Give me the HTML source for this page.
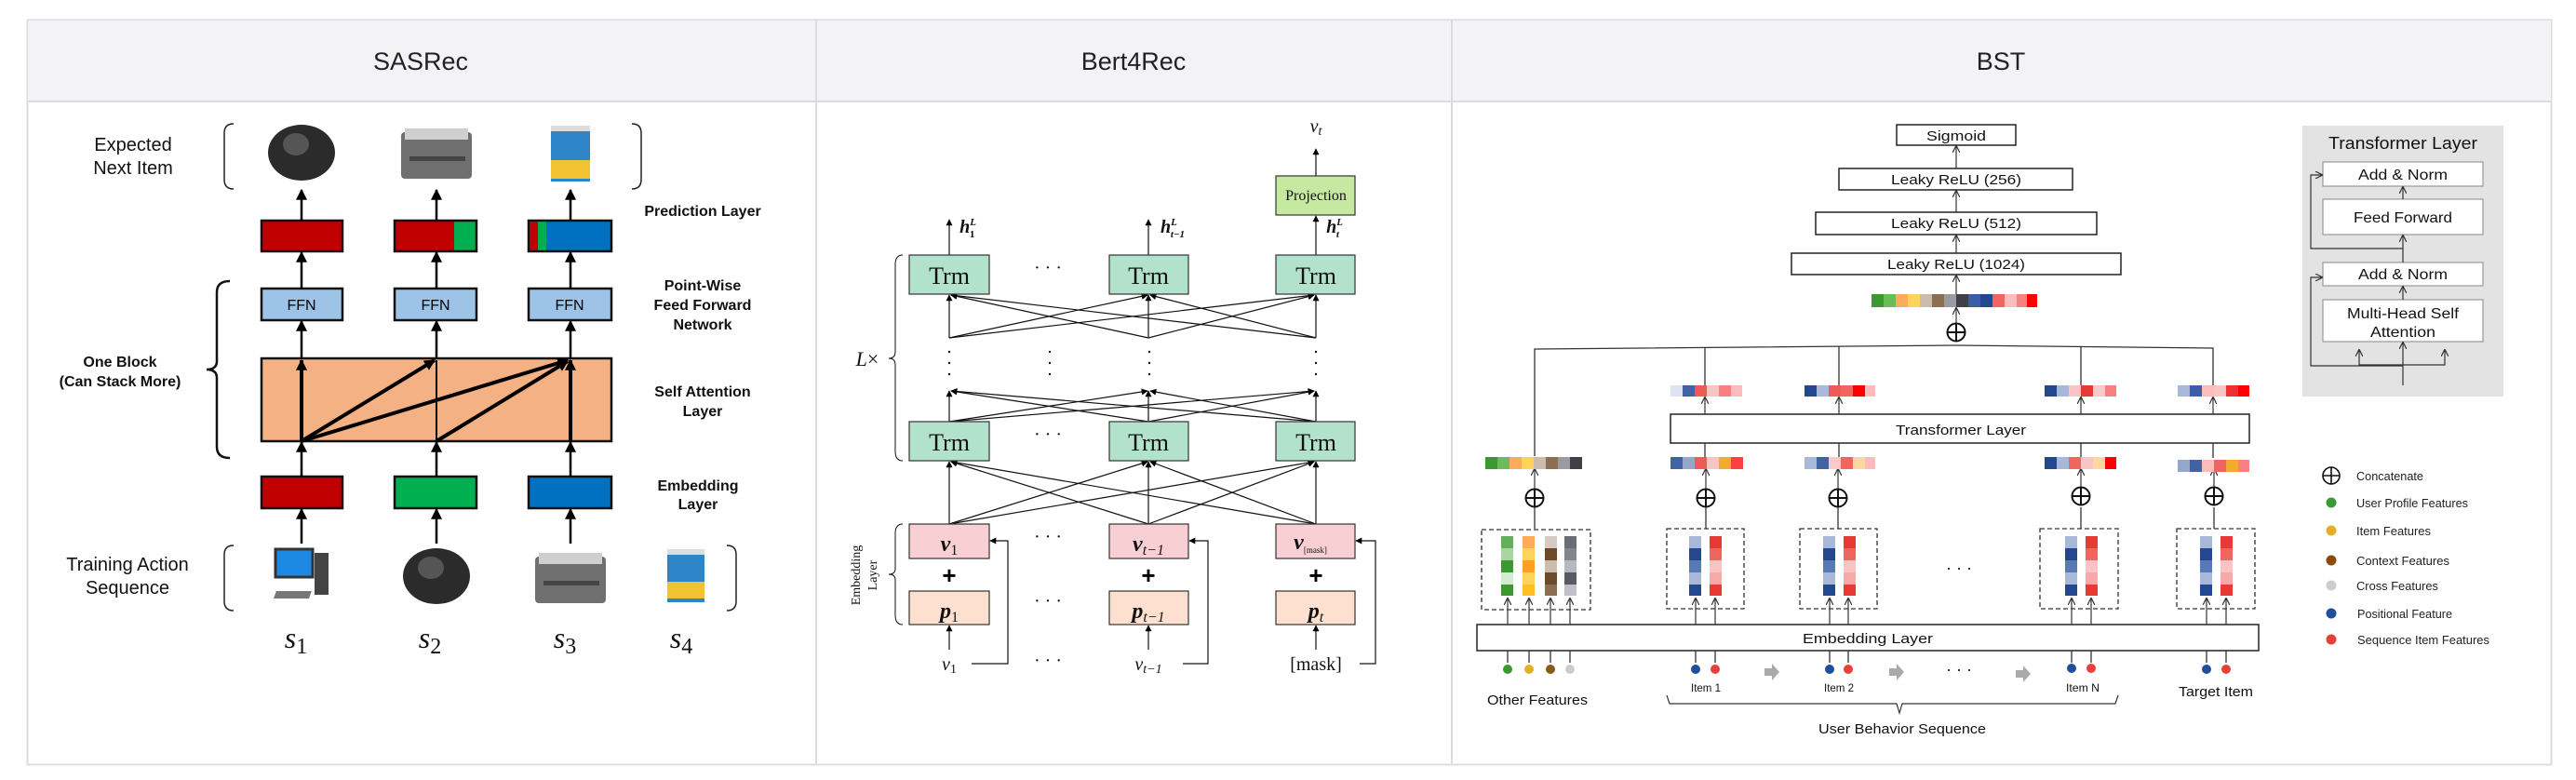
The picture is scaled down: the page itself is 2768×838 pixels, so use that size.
<!DOCTYPE html>
<html><head><meta charset="utf-8"><style>
html,body{margin:0;padding:0;background:#fff;}
svg{display:block;}
.hd{font-family:"Liberation Sans",sans-serif;font-size:27px;fill:#222;text-anchor:middle;}
.sa{font-family:"Liberation Sans",sans-serif;fill:#111;text-anchor:middle;}
.b{font-weight:bold;font-size:16px;}
.n{font-size:20px;}
.ser{font-family:"Liberation Serif",serif;fill:#111;text-anchor:middle;}
.bs{font-family:"Liberation Sans",sans-serif;fill:#111;text-anchor:middle;}
</style></head><body>
<svg width="2768" height="838" viewBox="0 0 2768 838" xmlns="http://www.w3.org/2000/svg">
<defs>
<marker id="A" viewBox="0 0 10 10" refX="9" refY="5" markerWidth="12" markerHeight="14" markerUnits="userSpaceOnUse" orient="auto"><path d="M0,0L10,5L0,10z" fill="#000"/></marker>
<marker id="T" viewBox="0 0 10 10" refX="9" refY="5" markerWidth="8" markerHeight="7" markerUnits="userSpaceOnUse" orient="auto"><path d="M0,0L10,5L0,10z" fill="#000"/></marker>
<marker id="O" viewBox="0 0 10 10" refX="9" refY="5" markerWidth="8" markerHeight="8" markerUnits="userSpaceOnUse" orient="auto"><path d="M0,0L10,5L0,10" fill="none" stroke="#333" stroke-width="1.5"/></marker>
</defs>
<rect x="29.5" y="21.5" width="2712" height="800" fill="#fff" stroke="#dcdce0" stroke-width="2"/>
<rect x="30" y="22" width="2711" height="87" fill="#f3f3f5"/>
<line x1="30" y1="109" x2="2741" y2="109" stroke="#dcdce0" stroke-width="2"/>
<line x1="877" y1="21" x2="877" y2="821" stroke="#dcdce0" stroke-width="2"/>
<line x1="1560" y1="21" x2="1560" y2="821" stroke="#dcdce0" stroke-width="2"/>
<text class="hd" x="452" y="75">SASRec</text>
<text class="hd" x="1218" y="75">Bert4Rec</text>
<text class="hd" x="2150" y="75">BST</text>

<g>
<text class="sa n" x="143" y="162">Expected</text>
<text class="sa n" x="143" y="187">Next Item</text>
<path d="M251,133 Q241,133 241,143 L241,193 Q241,203 251,203" fill="none" stroke="#222" stroke-width="1.5"/>
<path d="M679,133 Q689,133 689,143 L689,193 Q689,203 679,203" fill="none" stroke="#222" stroke-width="1.5"/>
<ellipse cx="324" cy="164" rx="36" ry="30" fill="#2b2b2b"/><ellipse cx="318" cy="155" rx="14" ry="12" fill="#555"/>
<rect x="431" y="142" width="76" height="50" rx="4" fill="#6f6f6f"/><rect x="435" y="138" width="68" height="12" fill="#cfcfcf"/><rect x="440" y="168" width="60" height="5" fill="#444"/>
<rect x="592" y="137" width="42" height="58" fill="#2e86c8"/><rect x="592" y="172" width="42" height="20" fill="#f1c232"/><rect x="592" y="135" width="42" height="6" fill="#ddd"/>
<text class="sa b" x="755" y="232">Prediction Layer</text>
<text class="sa b" x="755" y="312">Point-Wise</text>
<text class="sa b" x="755" y="333">Feed Forward</text>
<text class="sa b" x="755" y="354">Network</text>
<text class="sa b" x="755" y="426">Self Attention</text>
<text class="sa b" x="755" y="447">Layer</text>
<text class="sa b" x="750" y="527">Embedding</text>
<text class="sa b" x="750" y="547">Layer</text>
<text class="sa b" x="129" y="394">One Block</text>
<text class="sa b" x="129" y="415">(Can Stack More)</text>
<path d="M247,302 Q233,302 233,314 L233,388 Q233,397 222,397 Q233,397 233,406 L233,480 Q233,492 247,492" fill="none" stroke="#111" stroke-width="2.5"/>
<rect x="281" y="237" width="87" height="33" fill="#c00000" stroke="#111" stroke-width="2.5"/>
<rect x="424" y="237" width="88" height="33" fill="#c00000" stroke="#111" stroke-width="2.5"/><rect x="488" y="238.3" width="22.7" height="30.4" fill="#00b050"/>
<rect x="568" y="237" width="89" height="33" fill="#0070c0" stroke="#111" stroke-width="2.5"/><rect x="569.3" y="238.3" width="9" height="30.4" fill="#c00000"/><rect x="578" y="238.3" width="9" height="30.4" fill="#00b050"/>
<g font-family="Liberation Sans,sans-serif" font-size="16" text-anchor="middle">
<rect x="281" y="310" width="87" height="34" fill="#9dc3e6" stroke="#111" stroke-width="2.5"/><text x="324" y="333">FFN</text>
<rect x="424" y="310" width="88" height="34" fill="#9dc3e6" stroke="#111" stroke-width="2.5"/><text x="468" y="333">FFN</text>
<rect x="568" y="310" width="89" height="34" fill="#9dc3e6" stroke="#111" stroke-width="2.5"/><text x="612" y="333">FFN</text>
</g>
<rect x="281" y="385" width="376" height="89" fill="#f4b183" stroke="#111" stroke-width="2.5"/>
<rect x="281" y="512" width="87" height="34" fill="#c00000" stroke="#111" stroke-width="2.5"/>
<rect x="424" y="512" width="88" height="34" fill="#00b050" stroke="#111" stroke-width="2.5"/>
<rect x="568" y="512" width="89" height="34" fill="#0070c0" stroke="#111" stroke-width="2.5"/>
<g stroke="#000" stroke-width="2.5" marker-end="url(#A)">
<line x1="324" y1="237" x2="324" y2="204"/><line x1="469" y1="237" x2="469" y2="204"/><line x1="613" y1="237" x2="613" y2="204"/>
<line x1="324" y1="310" x2="324" y2="271"/><line x1="469" y1="310" x2="469" y2="271"/><line x1="613" y1="310" x2="613" y2="271"/>
<line x1="324" y1="385" x2="324" y2="345"/><line x1="469" y1="385" x2="469" y2="345"/><line x1="613" y1="385" x2="613" y2="345"/>
<line x1="324" y1="512" x2="324" y2="475"/><line x1="469" y1="512" x2="469" y2="475"/><line x1="613" y1="512" x2="613" y2="475"/>
<line x1="324" y1="584" x2="324" y2="547"/><line x1="469" y1="584" x2="469" y2="547"/><line x1="613" y1="584" x2="613" y2="547"/>
</g>
<g stroke="#000" stroke-width="4" marker-end="url(#A)">
<line x1="324" y1="474" x2="324" y2="387"/><line x1="613" y1="474" x2="613" y2="387"/>
<line x1="324" y1="474" x2="467" y2="387"/><line x1="324" y1="474" x2="610" y2="387"/><line x1="469" y1="474" x2="610" y2="388"/>
</g>
<line x1="469" y1="474" x2="469" y2="387" stroke="#000" stroke-width="2"/>
<text class="sa n" x="137" y="613">Training Action</text>
<text class="sa n" x="137" y="638">Sequence</text>
<path d="M251,586 Q241,586 241,596 L241,646 Q241,656 251,656" fill="none" stroke="#222" stroke-width="1.5"/>
<path d="M781,586 Q791,586 791,596 L791,646 Q791,656 781,656" fill="none" stroke="#222" stroke-width="1.5"/>
<rect x="296" y="590" width="40" height="30" fill="#1e88e5" stroke="#333" stroke-width="3"/><rect x="338" y="594" width="15" height="45" fill="#444"/><rect x="298" y="635" width="38" height="8" fill="#777" transform="skewX(-20) translate(230 0)"/>
<ellipse cx="469" cy="619" rx="36" ry="30" fill="#2b2b2b"/><ellipse cx="463" cy="610" rx="14" ry="12" fill="#555"/>
<rect x="575" y="598" width="76" height="50" rx="4" fill="#6f6f6f"/><rect x="579" y="594" width="68" height="12" fill="#cfcfcf"/><rect x="584" y="624" width="60" height="5" fill="#444"/>
<rect x="717" y="592" width="40" height="55" fill="#2e86c8"/><rect x="717" y="625" width="40" height="18" fill="#f1c232"/><rect x="717" y="590" width="40" height="6" fill="#ddd"/>
<g font-family="Liberation Serif,serif" font-style="italic" font-size="32" fill="#111" text-anchor="middle">
<text x="318" y="696">s<tspan font-style="normal" font-size="24" dy="6">1</tspan></text>
<text x="462" y="696">s<tspan font-style="normal" font-size="24" dy="6">2</tspan></text>
<text x="607" y="696">s<tspan font-style="normal" font-size="24" dy="6">3</tspan></text>
<text x="732" y="696">s<tspan font-style="normal" font-size="24" dy="6">4</tspan></text>
</g>
</g>

<g>
<g stroke="#111" stroke-width="1.2" marker-end="url(#T)">
<line x1="1020" y1="563" x2="1020" y2="496"/><line x1="1020" y1="563" x2="1233" y2="496"/><line x1="1020" y1="563" x2="1412" y2="496"/>
<line x1="1234" y1="563" x2="1022" y2="496"/><line x1="1234" y1="563" x2="1234" y2="496"/><line x1="1234" y1="563" x2="1412" y2="496"/>
<line x1="1414" y1="563" x2="1022" y2="496"/><line x1="1414" y1="563" x2="1236" y2="496"/><line x1="1414" y1="563" x2="1414" y2="496"/>
<line x1="1020" y1="453" x2="1020" y2="420"/><line x1="1020" y1="453" x2="1233" y2="420"/><line x1="1020" y1="453" x2="1412" y2="420"/>
<line x1="1234" y1="453" x2="1022" y2="420"/><line x1="1234" y1="453" x2="1234" y2="420"/><line x1="1234" y1="453" x2="1412" y2="420"/>
<line x1="1414" y1="453" x2="1022" y2="420"/><line x1="1414" y1="453" x2="1236" y2="420"/><line x1="1414" y1="453" x2="1414" y2="420"/>
<line x1="1020" y1="363" x2="1020" y2="317"/><line x1="1020" y1="363" x2="1233" y2="317"/><line x1="1020" y1="363" x2="1412" y2="317"/>
<line x1="1234" y1="363" x2="1022" y2="317"/><line x1="1234" y1="363" x2="1234" y2="317"/><line x1="1234" y1="363" x2="1412" y2="317"/>
<line x1="1414" y1="363" x2="1022" y2="317"/><line x1="1414" y1="363" x2="1236" y2="317"/><line x1="1414" y1="363" x2="1414" y2="317"/>
<line x1="1020" y1="274" x2="1020" y2="236"/><line x1="1234" y1="274" x2="1234" y2="236"/><line x1="1414" y1="274" x2="1414" y2="232"/>
<line x1="1414" y1="189" x2="1414" y2="160"/>
<line x1="1020" y1="698" x2="1020" y2="672"/><line x1="1234" y1="698" x2="1234" y2="672"/><line x1="1414" y1="698" x2="1414" y2="672"/>
<polyline points="1044,713 1083,713 1083,581 1064,581" fill="none"/>
<polyline points="1271,713 1298,713 1298,581 1278,581" fill="none"/>
<polyline points="1461,713 1478,713 1478,581 1457,581" fill="none"/>
</g>
<g stroke="#333" stroke-width="1.2">
<rect x="977" y="274" width="86" height="42" fill="#b3e2cc"/><rect x="1192" y="274" width="85" height="42" fill="#b3e2cc"/><rect x="1371" y="274" width="85" height="42" fill="#b3e2cc"/>
<rect x="977" y="453" width="86" height="42" fill="#b3e2cc"/><rect x="1192" y="453" width="85" height="42" fill="#b3e2cc"/><rect x="1371" y="453" width="85" height="42" fill="#b3e2cc"/>
<rect x="977" y="563" width="86" height="37" fill="#f8d0d3"/><rect x="1192" y="563" width="85" height="37" fill="#f8d0d3"/><rect x="1371" y="563" width="85" height="37" fill="#f8d0d3"/>
<rect x="977" y="635" width="86" height="36" fill="#fde0cf"/><rect x="1192" y="635" width="85" height="36" fill="#fde0cf"/><rect x="1371" y="635" width="85" height="36" fill="#fde0cf"/>
<rect x="1371" y="189" width="85" height="42" fill="#c6e9a2"/>
</g>
<g class="ser" font-size="26">
<text x="1020" y="305" class="ser">Trm</text><text x="1234" y="305" class="ser">Trm</text><text x="1414" y="305" class="ser">Trm</text>
<text x="1020" y="484" class="ser">Trm</text><text x="1234" y="484" class="ser">Trm</text><text x="1414" y="484" class="ser">Trm</text>
</g>
<text x="1414" y="215" class="ser" font-size="16">Projection</text>
<g font-family="Liberation Serif,serif" font-size="24" fill="#111" font-weight="bold" font-style="italic" text-anchor="middle">
<text x="1020" y="592">v<tspan font-size="16" font-weight="normal" font-style="normal" dy="4">1</tspan></text>
<text x="1234" y="592">v<tspan font-size="16" font-weight="normal" dy="4">t−1</tspan></text>
<text x="1408" y="590">v<tspan font-size="9" font-weight="normal" font-style="normal" dy="4">[mask]</tspan></text>
<text x="1020" y="664">p<tspan font-size="16" font-weight="normal" font-style="normal" dy="4">1</tspan></text>
<text x="1234" y="664">p<tspan font-size="16" font-weight="normal" dy="4">t−1</tspan></text>
<text x="1414" y="664">p<tspan font-size="16" font-weight="normal" dy="4">t</tspan></text>
</g>
<g font-family="Liberation Sans,sans-serif" font-size="26" font-weight="bold" text-anchor="middle"><text x="1020" y="627">+</text><text x="1234" y="627">+</text><text x="1414" y="627">+</text></g>
<g font-family="Liberation Serif,serif" font-size="20" fill="#111" font-style="italic" text-anchor="middle">
<text x="1020" y="720">v<tspan font-size="14" font-style="normal" dy="3">1</tspan></text>
<text x="1234" y="720">v<tspan font-size="14" dy="3">t−1</tspan></text>
<text x="1414" y="720" font-style="normal">[mask]</text>
<text x="1414" y="142">v<tspan font-size="14" dy="3">t</tspan></text>
<text x="1040" y="250" font-weight="bold">h<tspan font-size="11" dy="-8">L</tspan><tspan font-size="11" font-style="normal" dx="-7" dy="13">1</tspan></text>
<text x="1260" y="250" font-weight="bold">h<tspan font-size="11" dy="-8">L</tspan><tspan font-size="11" dx="-7" dy="13">t−1</tspan></text>
<text x="1434" y="250" font-weight="bold">h<tspan font-size="11" dy="-8">L</tspan><tspan font-size="11" dx="-7" dy="13">t</tspan></text>
<text x="932" y="393" font-size="22">L<tspan font-style="normal">×</tspan></text>
</g>
<g font-family="Liberation Serif,serif" font-size="20" fill="#111" text-anchor="middle">
<text x="1126" y="294">· · ·</text><text x="1126" y="473">· · ·</text><text x="1126" y="583">· · ·</text><text x="1126" y="652">· · ·</text><text x="1126" y="716">· · ·</text>
</g>
<g fill="#111"><circle cx="1020" cy="378" r="1.2"/><circle cx="1020" cy="390" r="1.2"/><circle cx="1020" cy="402" r="1.2"/>
<circle cx="1128" cy="378" r="1.2"/><circle cx="1128" cy="390" r="1.2"/><circle cx="1128" cy="402" r="1.2"/>
<circle cx="1235" cy="378" r="1.2"/><circle cx="1235" cy="390" r="1.2"/><circle cx="1235" cy="402" r="1.2"/>
<circle cx="1414" cy="378" r="1.2"/><circle cx="1414" cy="390" r="1.2"/><circle cx="1414" cy="402" r="1.2"/></g>
<path d="M970,274 Q962,274 962,284 L962,378 Q962,385 955,385 Q962,385 962,392 L962,485 Q962,495 970,495" fill="none" stroke="#111" stroke-width="1"/>
<path d="M970,563 Q962,563 962,573 L962,611 Q962,617 955,617 Q962,617 962,623 L962,661 Q962,671 970,671" fill="none" stroke="#111" stroke-width="1"/>
<text transform="translate(924,618) rotate(-90)" class="ser" font-size="14">Embedding</text>
<text transform="translate(942,618) rotate(-90)" class="ser" font-size="14">Layer</text>
</g>

<g>
<g fill="#fff" stroke="#222" stroke-width="1.5">
<rect x="2038" y="134" width="128" height="22"/>
<rect x="1976" y="181" width="251" height="23"/>
<rect x="1951" y="228" width="302" height="24"/>
<rect x="1925" y="272" width="354" height="23"/>
<rect x="1795" y="445" width="622" height="31"/>
<rect x="1587" y="671" width="840" height="28"/>
</g>
<g class="bs" font-size="15">
<text x="2102" y="151" textLength="64" lengthAdjust="spacingAndGlyphs">Sigmoid</text>
<text x="2102" y="198" textLength="140" lengthAdjust="spacingAndGlyphs">Leaky ReLU (256)</text>
<text x="2102" y="245" textLength="140" lengthAdjust="spacingAndGlyphs">Leaky ReLU (512)</text>
<text x="2102" y="289" textLength="148" lengthAdjust="spacingAndGlyphs">Leaky ReLU (1024)</text>
<text x="2107" y="467" textLength="140" lengthAdjust="spacingAndGlyphs">Transformer Layer</text>
<text x="2007" y="691" textLength="140" lengthAdjust="spacingAndGlyphs">Embedding  Layer</text>
</g>
<g stroke="#333" stroke-width="1.2" marker-end="url(#O)">
<line x1="2102" y1="181" x2="2102" y2="157"/><line x1="2102" y1="228" x2="2102" y2="205"/><line x1="2102" y1="272" x2="2102" y2="253"/>
<line x1="2102" y1="316" x2="2102" y2="296"/><line x1="2102" y1="347" x2="2102" y2="331"/>
<line x1="1832" y1="445" x2="1832" y2="427"/><line x1="1976" y1="445" x2="1976" y2="427"/><line x1="2236" y1="445" x2="2236" y2="427"/><line x1="2378" y1="445" x2="2378" y2="427"/>
<line x1="1649" y1="525" x2="1649" y2="504"/><line x1="1833" y1="525" x2="1833" y2="504"/><line x1="1975" y1="525" x2="1975" y2="504"/><line x1="2236" y1="525" x2="2236" y2="504"/><line x1="2379" y1="525" x2="2379" y2="504"/>
<line x1="1620" y1="671" x2="1620" y2="643"/><line x1="1643" y1="671" x2="1643" y2="643"/><line x1="1666" y1="671" x2="1666" y2="643"/><line x1="1687" y1="671" x2="1687" y2="643"/>
<line x1="1822" y1="671" x2="1822" y2="643"/><line x1="1843" y1="671" x2="1843" y2="643"/>
<line x1="1966" y1="671" x2="1966" y2="643"/><line x1="1986" y1="671" x2="1986" y2="643"/>
<line x1="2226" y1="671" x2="2226" y2="643"/><line x1="2247" y1="671" x2="2247" y2="643"/>
<line x1="2371" y1="671" x2="2371" y2="643"/><line x1="2392" y1="671" x2="2392" y2="643"/>
</g>
<g stroke="#333" stroke-width="1.3" fill="none">
<polyline points="1649,490 1649,375 2102,371 2378,374 2378,414"/>
<line x1="1832" y1="374" x2="1832" y2="414"/><line x1="1976" y1="372" x2="1976" y2="414"/><line x1="2236" y1="372" x2="2236" y2="414"/>
<line x1="1832" y1="476" x2="1832" y2="492"/><line x1="1976" y1="476" x2="1976" y2="492"/><line x1="2236" y1="476" x2="2236" y2="492"/><line x1="2378" y1="476" x2="2378" y2="492"/>
<line x1="1649" y1="545" x2="1649" y2="568"/><line x1="1833" y1="545" x2="1833" y2="568"/><line x1="1975" y1="545" x2="1975" y2="568"/><line x1="2236" y1="545" x2="2236" y2="568"/><line x1="2379" y1="545" x2="2379" y2="568"/>
<line x1="1620" y1="699" x2="1620" y2="712"/><line x1="1643" y1="699" x2="1643" y2="712"/><line x1="1666" y1="699" x2="1666" y2="712"/><line x1="1687" y1="699" x2="1687" y2="712"/>
<line x1="1822" y1="699" x2="1822" y2="712"/><line x1="1843" y1="699" x2="1843" y2="712"/><line x1="1966" y1="699" x2="1966" y2="712"/><line x1="1986" y1="699" x2="1986" y2="712"/>
<line x1="2226" y1="699" x2="2226" y2="712"/><line x1="2247" y1="699" x2="2247" y2="712"/><line x1="2371" y1="699" x2="2371" y2="712"/><line x1="2392" y1="699" x2="2392" y2="712"/>
</g>
<g fill="#fff" stroke="#111" stroke-width="2">
<circle cx="2102" cy="357" r="9.5"/><circle cx="1649" cy="535" r="9.5"/><circle cx="1833" cy="535" r="9.5"/><circle cx="1975" cy="535" r="9.5"/><circle cx="2236" cy="533" r="9.5"/><circle cx="2379" cy="533" r="9.5"/>
</g>
<g stroke="#111" stroke-width="2">
<path d="M2092.5,357h19M2102,347.5v19"/><path d="M1639.5,535h19M1649,525.5v19"/><path d="M1823.5,535h19M1833,525.5v19"/><path d="M1965.5,535h19M1975,525.5v19"/><path d="M2226.5,533h19M2236,523.5v19"/><path d="M2369.5,533h19M2379,523.5v19"/>
</g>
<g>
<rect x="2011" y="316" width="13" height="14" fill="#3a9a30"/><rect x="2024" y="316" width="13" height="14" fill="#6cbb5a"/><rect x="2037" y="316" width="13" height="14" fill="#fcab5c"/><rect x="2050" y="316" width="13" height="14" fill="#fdd35a"/><rect x="2063" y="316" width="13" height="14" fill="#cbbcae"/><rect x="2076" y="316" width="13" height="14" fill="#8c6e52"/><rect x="2089" y="316" width="13" height="14" fill="#9a9aa0"/><rect x="2102" y="316" width="13" height="14" fill="#404048"/><rect x="2115" y="316" width="13" height="14" fill="#3b5ca8"/><rect x="2128" y="316" width="13" height="14" fill="#24488f"/><rect x="2141" y="316" width="13" height="14" fill="#f06560"/><rect x="2154" y="316" width="13" height="14" fill="#fbbcbc"/><rect x="2167" y="316" width="11" height="14" fill="#f88080"/><rect x="2178" y="316" width="11" height="14" fill="#f00"/>
</g>
<g>
<rect x="1795" y="414" width="13" height="12" fill="#dde3f0"/><rect x="1808" y="414" width="13" height="12" fill="#4163a5"/><rect x="1821" y="414" width="13" height="12" fill="#ee5a55"/><rect x="1834" y="414" width="13" height="12" fill="#f9c4c4"/><rect x="1847" y="414" width="13" height="12" fill="#f88080"/><rect x="1860" y="414" width="12" height="12" fill="#fcbcbc"/>
<rect x="1939" y="414" width="13" height="12" fill="#24488f"/><rect x="1952" y="414" width="13" height="12" fill="#a8b8d8"/><rect x="1965" y="414" width="13" height="12" fill="#ee5a55"/><rect x="1978" y="414" width="13" height="12" fill="#f06560"/><rect x="1991" y="414" width="13" height="12" fill="#f00"/><rect x="2004" y="414" width="11" height="12" fill="#fcbcbc"/>
<rect x="2197" y="414" width="13" height="12" fill="#24488f"/><rect x="2210" y="414" width="13" height="12" fill="#a8b8d8"/><rect x="2223" y="414" width="13" height="12" fill="#f9c4c4"/><rect x="2236" y="414" width="13" height="12" fill="#e83a35"/><rect x="2249" y="414" width="13" height="12" fill="#fcc8c8"/><rect x="2262" y="414" width="12" height="12" fill="#f88080"/>
<rect x="2340" y="414" width="13" height="12" fill="#a8b8d8"/><rect x="2353" y="414" width="13" height="12" fill="#3b5ca8"/><rect x="2366" y="414" width="13" height="12" fill="#fcbcbc"/><rect x="2379" y="414" width="13" height="12" fill="#f9c4c4"/><rect x="2392" y="414" width="13" height="12" fill="#ee3030"/><rect x="2405" y="414" width="12" height="12" fill="#f00"/>
</g>
<g>
<rect x="1596" y="491" width="13" height="13" fill="#3a9a30"/><rect x="1609" y="491" width="13" height="13" fill="#6cbb5a"/><rect x="1622" y="491" width="13" height="13" fill="#fcab5c"/><rect x="1635" y="491" width="13" height="13" fill="#fdd35a"/><rect x="1648" y="491" width="13" height="13" fill="#cbbcae"/><rect x="1661" y="491" width="13" height="13" fill="#8c6e52"/><rect x="1674" y="491" width="13" height="13" fill="#9a9aa0"/><rect x="1687" y="491" width="13" height="13" fill="#404048"/>
<rect x="1795" y="491" width="13" height="13" fill="#4163a5"/><rect x="1808" y="491" width="13" height="13" fill="#94a8cc"/><rect x="1821" y="491" width="13" height="13" fill="#ee5a55"/><rect x="1834" y="491" width="13" height="13" fill="#f9c4c4"/><rect x="1847" y="491" width="13" height="13" fill="#f2aa30"/><rect x="1860" y="491" width="13" height="13" fill="#fa4040"/>
<rect x="1939" y="491" width="13" height="13" fill="#a8b8d8"/><rect x="1952" y="491" width="13" height="13" fill="#4163a5"/><rect x="1965" y="491" width="13" height="13" fill="#fcc8c8"/><rect x="1978" y="491" width="13" height="13" fill="#f06560"/><rect x="1991" y="491" width="13" height="13" fill="#fbd8a0"/><rect x="2004" y="491" width="11" height="13" fill="#fcbcbc"/>
<rect x="2197" y="491" width="13" height="13" fill="#24488f"/><rect x="2210" y="491" width="13" height="13" fill="#a8b8d8"/><rect x="2223" y="491" width="13" height="13" fill="#f06560"/><rect x="2236" y="491" width="13" height="13" fill="#f9c4c4"/><rect x="2249" y="491" width="13" height="13" fill="#fbd8a0"/><rect x="2262" y="491" width="12" height="13" fill="#f00"/>
<rect x="2340" y="494" width="13" height="13" fill="#94a8cc"/><rect x="2353" y="494" width="13" height="13" fill="#4163a5"/><rect x="2366" y="494" width="13" height="13" fill="#fcbcbc"/><rect x="2379" y="494" width="13" height="13" fill="#f06560"/><rect x="2392" y="494" width="13" height="13" fill="#f2aa30"/><rect x="2405" y="494" width="12" height="13" fill="#f88080"/>
</g>
<g fill="none" stroke="#333" stroke-width="1.3" stroke-dasharray="5,3">
<rect x="1592" y="569" width="117" height="86"/><rect x="1791" y="568" width="83" height="86"/><rect x="1934" y="568" width="83" height="86"/><rect x="2192" y="568" width="84" height="86"/><rect x="2339" y="568" width="84" height="86"/>
</g>
<g>
<rect x="1613" y="576" width="13" height="13" fill="#62b05a"/><rect x="1613" y="589" width="13" height="13" fill="#a9d6a0"/><rect x="1613" y="602" width="13" height="13" fill="#3a9a30"/><rect x="1613" y="615" width="13" height="13" fill="#d3ebcf"/><rect x="1613" y="628" width="13" height="12" fill="#3a9a30"/>
<rect x="1636" y="576" width="13" height="13" fill="#fcab5c"/><rect x="1636" y="589" width="13" height="13" fill="#fdd35a"/><rect x="1636" y="602" width="13" height="13" fill="#fba020"/><rect x="1636" y="615" width="13" height="13" fill="#fdd35a"/><rect x="1636" y="628" width="13" height="12" fill="#fdc020"/>
<rect x="1660" y="576" width="13" height="13" fill="#d6cbc0"/><rect x="1660" y="589" width="13" height="13" fill="#6c4a2a"/><rect x="1660" y="602" width="13" height="13" fill="#cbbcae"/><rect x="1660" y="615" width="13" height="13" fill="#6c4a2a"/><rect x="1660" y="628" width="13" height="12" fill="#8c6e52"/>
<rect x="1681" y="576" width="13" height="13" fill="#6c6c74"/><rect x="1681" y="589" width="13" height="13" fill="#84848c"/><rect x="1681" y="602" width="13" height="13" fill="#b8b8c0"/><rect x="1681" y="615" width="13" height="13" fill="#5a5a64"/><rect x="1681" y="628" width="13" height="12" fill="#c0c0c6"/>
</g>
<g id="st">
<rect x="1815" y="576" width="13" height="13" fill="#a8b8d8"/><rect x="1815" y="589" width="13" height="13" fill="#24488f"/><rect x="1815" y="602" width="13" height="13" fill="#5a7ab5"/><rect x="1815" y="615" width="13" height="13" fill="#a8b8d8"/><rect x="1815" y="628" width="13" height="12" fill="#24488f"/>
<rect x="1837" y="576" width="13" height="13" fill="#e83a35"/><rect x="1837" y="589" width="13" height="13" fill="#f06560"/><rect x="1837" y="602" width="13" height="13" fill="#f9c4c4"/><rect x="1837" y="615" width="13" height="13" fill="#f7a8a8"/><rect x="1837" y="628" width="13" height="12" fill="#e83a35"/>
</g>
<use href="#st" x="144"/><use href="#st" x="404"/><use href="#st" x="549"/>
<text x="2105" y="616" class="bs" font-size="18">· · ·</text>
<g>
<circle cx="1620" cy="719" r="5" fill="#3a9a30"/><circle cx="1643" cy="719" r="5" fill="#e2b02a"/><circle cx="1666" cy="719" r="5" fill="#8a5a1a"/><circle cx="1687" cy="719" r="5" fill="#ccc"/>
<circle cx="1822" cy="719" r="5" fill="#1f4e9a"/><circle cx="1843" cy="719" r="5" fill="#e8403a"/>
<circle cx="1966" cy="719" r="5" fill="#1f4e9a"/><circle cx="1986" cy="719" r="5" fill="#e8403a"/>
<circle cx="2226" cy="718" r="5" fill="#1f4e9a"/><circle cx="2247" cy="718" r="5" fill="#e8403a"/>
<circle cx="2371" cy="719" r="5" fill="#1f4e9a"/><circle cx="2392" cy="719" r="5" fill="#e8403a"/>
</g>
<g fill="#aaa"><path d="M1896,718h8v-5l8,9l-8,9v-5h-8z"/><path d="M2030,718h8v-5l8,9l-8,9v-5h-8z"/><path d="M2166,720h8v-5l8,9l-8,9v-5h-8z"/></g>
<text x="2105" y="725" class="bs" font-size="18">· · ·</text>
<g class="bs" font-size="12">
<text x="1833" y="743" textLength="32" lengthAdjust="spacingAndGlyphs">Item 1</text>
<text x="1976" y="743" textLength="32" lengthAdjust="spacingAndGlyphs">Item 2</text>
<text x="2238" y="743" textLength="36" lengthAdjust="spacingAndGlyphs">Item N</text>
</g>
<g class="bs" font-size="15">
<text x="1652" y="757" textLength="108" lengthAdjust="spacingAndGlyphs">Other Features</text>
<text x="2381" y="748" textLength="80" lengthAdjust="spacingAndGlyphs">Target Item</text>
<text x="2044" y="788" textLength="180" lengthAdjust="spacingAndGlyphs">User Behavior Sequence</text>
</g>
<path d="M1791,747 L1794,756 L2038,756 L2041,766 L2044,756 L2273,756 L2276,747" fill="none" stroke="#333" stroke-width="1.2"/>
<rect x="2474" y="135" width="216" height="291" fill="#e3e3e3"/>
<text x="2582" y="160" class="bs" font-size="18" textLength="160" lengthAdjust="spacingAndGlyphs">Transformer Layer</text>
<g fill="#fff" stroke="#999" stroke-width="1.2">
<rect x="2496" y="174" width="172" height="26"/><rect x="2496" y="214" width="172" height="38"/><rect x="2496" y="282" width="172" height="25"/><rect x="2496" y="322" width="172" height="45"/>
</g>
<g class="bs" font-size="16">
<text x="2582" y="193" textLength="96" lengthAdjust="spacingAndGlyphs">Add &amp; Norm</text>
<text x="2582" y="239" textLength="106" lengthAdjust="spacingAndGlyphs">Feed Forward</text>
<text x="2582" y="300" textLength="96" lengthAdjust="spacingAndGlyphs">Add &amp; Norm</text>
<text x="2582" y="342" textLength="120" lengthAdjust="spacingAndGlyphs">Multi-Head Self</text>
<text x="2582" y="362" textLength="70" lengthAdjust="spacingAndGlyphs">Attention</text>
</g>
<g stroke="#333" stroke-width="1.2" fill="none">
<line x1="2582" y1="414" x2="2582" y2="368" marker-end="url(#O)"/>
<line x1="2582" y1="322" x2="2582" y2="308" marker-end="url(#O)"/>
<line x1="2582" y1="282" x2="2582" y2="253" marker-end="url(#O)"/>
<line x1="2582" y1="214" x2="2582" y2="201" marker-end="url(#O)"/>
<polyline points="2582,392 2535,392 2535,376" marker-end="url(#O)"/>
<polyline points="2582,392 2627,392 2627,376" marker-end="url(#O)"/>
<polyline points="2582,393 2483,393 2483,298 2495,298" marker-end="url(#O)"/>
<polyline points="2582,267 2483,267 2483,188 2495,188" marker-end="url(#O)"/>
</g>
<circle cx="2505" cy="511" r="9" fill="none" stroke="#111" stroke-width="1.6"/><path d="M2496,511h18M2505,502v18" stroke="#111" stroke-width="1.6"/>
<circle cx="2505" cy="540" r="5.5" fill="#3a9a3a"/><circle cx="2505" cy="570" r="5.5" fill="#e2b02a"/><circle cx="2505" cy="602" r="5.5" fill="#8a4a0a"/><circle cx="2505" cy="629" r="5.5" fill="#ccc"/><circle cx="2505" cy="659" r="5.5" fill="#1f4e9a"/><circle cx="2505" cy="687" r="5.5" fill="#e8403a"/>
<g font-family="Liberation Sans,sans-serif" font-size="13" fill="#222">
<text x="2532" y="516" textLength="72" lengthAdjust="spacingAndGlyphs">Concatenate</text>
<text x="2532" y="545" textLength="120" lengthAdjust="spacingAndGlyphs">User Profile Features</text>
<text x="2532" y="575" textLength="80" lengthAdjust="spacingAndGlyphs">Item Features</text>
<text x="2532" y="607" textLength="100" lengthAdjust="spacingAndGlyphs">Context Features</text>
<text x="2532" y="634" textLength="88" lengthAdjust="spacingAndGlyphs">Cross Features</text>
<text x="2533" y="664" textLength="102" lengthAdjust="spacingAndGlyphs">Positional Feature</text>
<text x="2533" y="692" textLength="142" lengthAdjust="spacingAndGlyphs">Sequence Item Features</text>
</g>
</g>
</svg>
</body></html>
